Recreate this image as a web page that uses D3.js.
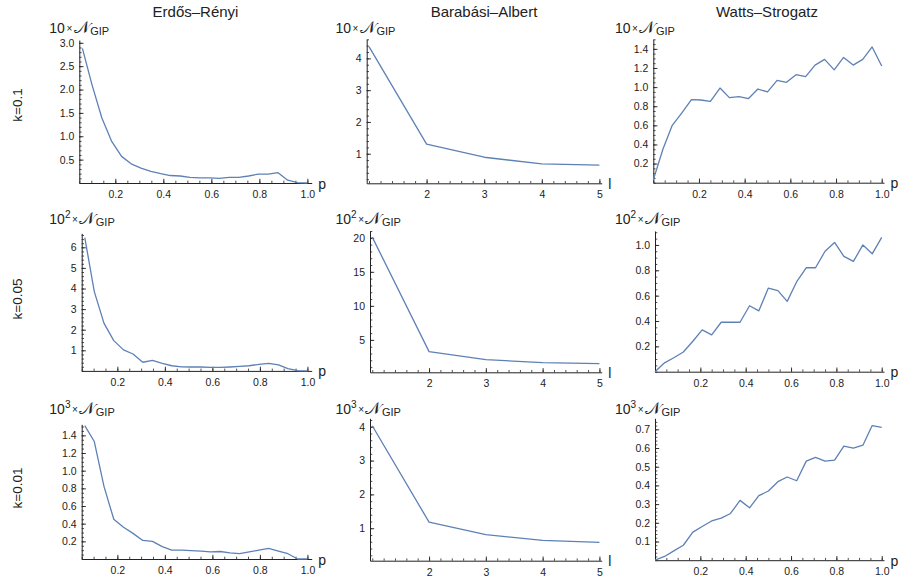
<!DOCTYPE html>
<html>
<head>
<meta charset="utf-8">
<script src="https://cdn.jsdelivr.net/npm/d3@7"></script>
<style>
  html, body { margin: 0; padding: 0; background: #fff; }
  svg { display: block; font-family: "Liberation Sans", Arial, sans-serif; }
</style>
</head>
<body>
<svg id="chart" width="901" height="583"></svg>
<script>
// ---------------- DATA ----------------
const colTitles = ["Erdős–Rényi", "Barabási–Albert", "Watts–Strogatz"];
const rowLabels = ["k=0.1", "k=0.05", "k=0.01"];
const scaleExponents = ["", "2", "3"];
const xAxisNames = ["p", "l", "p"];

// Erdős–Rényi: connection probability p
const pER = [0.063, 0.103, 0.144, 0.185, 0.226, 0.266, 0.307, 0.348, 0.389, 0.429, 0.470, 0.511,
             0.552, 0.592, 0.633, 0.674, 0.715, 0.755, 0.796, 0.837, 0.878, 0.918, 0.959, 1.0];
const erK01  = [2.88, 2.10, 1.39, 0.89, 0.57, 0.41, 0.32, 0.25, 0.20, 0.16, 0.15, 0.12,
                0.11, 0.11, 0.10, 0.12, 0.12, 0.15, 0.19, 0.19, 0.22, 0.06, 0.01, 0.00];
const erK005 = [6.47, 3.85, 2.31, 1.47, 1.02, 0.82, 0.42, 0.51, 0.37, 0.25, 0.20, 0.19,
                0.19, 0.17, 0.17, 0.19, 0.22, 0.25, 0.32, 0.37, 0.29, 0.11, 0.01, 0.00];
const erK001 = [1.51, 1.33, 0.82, 0.45, 0.36, 0.29, 0.21, 0.20, 0.14, 0.10, 0.10, 0.095,
                0.09, 0.08, 0.085, 0.07, 0.06, 0.08, 0.10, 0.12, 0.09, 0.06, 0.00, 0.00];

// Barabási–Albert: parameter l
const lBA = [1, 2, 3, 4, 5];
const baK01  = [4.37, 1.30, 0.89, 0.68, 0.64];
const baK005 = [20.1, 3.28, 2.10, 1.66, 1.51];
const baK001 = [4.03, 1.18, 0.81, 0.64, 0.58];

// Watts–Strogatz: rewiring probability p
const pWS = [0, 0.042, 0.083, 0.125, 0.167, 0.208, 0.25, 0.292, 0.333, 0.375, 0.417, 0.458,
             0.5, 0.542, 0.583, 0.625, 0.667, 0.708, 0.75, 0.792, 0.833, 0.875, 0.917, 0.958, 1.0];
const wsK01  = [0.03, 0.35, 0.60, 0.73, 0.87, 0.865, 0.85, 0.99, 0.89, 0.90, 0.88, 0.98,
                0.95, 1.07, 1.05, 1.13, 1.11, 1.23, 1.29, 1.18, 1.31, 1.23, 1.29, 1.42, 1.22];
const wsK005 = [0.00, 0.07, 0.11, 0.155, 0.24, 0.33, 0.29, 0.39, 0.39, 0.39, 0.52, 0.48,
                0.66, 0.64, 0.555, 0.71, 0.82, 0.82, 0.95, 1.02, 0.91, 0.87, 1.00, 0.93, 1.06];
const wsK001 = [0.00, 0.02, 0.05, 0.08, 0.15, 0.18, 0.21, 0.225, 0.25, 0.32, 0.28, 0.345,
                0.37, 0.42, 0.445, 0.425, 0.53, 0.55, 0.53, 0.535, 0.61, 0.60, 0.615, 0.72, 0.71];

// tick labels
const xTicksER = [0.2, 0.4, 0.6, 0.8, 1.0];
const xTicksBA = [2, 3, 4, 5];
const xTicksWS = [0.2, 0.4, 0.6, 0.8, 1.0];
const yTicksER = [[0.5, 1.0, 1.5, 2.0, 2.5, 3.0], [1, 2, 3, 4, 5, 6], [0.2, 0.4, 0.6, 0.8, 1.0, 1.2, 1.4]];
const yTicksBA = [[1, 2, 3, 4], [5, 10, 15, 20], [1, 2, 3, 4]];
const yTicksWS = [[0.2, 0.4, 0.6, 0.8, 1.0, 1.2, 1.4], [0.2, 0.4, 0.6, 0.8, 1.0], [0.1, 0.2, 0.3, 0.4, 0.5, 0.6, 0.7]];

// ---------------- LAYOUT (positions / styles) ----------------
const panelBox = [ // [left, right, top, bottom]
  [[79.3, 311.7, 40, 183], [366.7, 601.7, 39.3, 183.3], [653.3, 884, 39.3, 182.7]],
  [[81.7, 311.7, 233.3, 370.9], [370, 601.7, 231, 372.3], [655, 884, 231, 371.7]],
  [[81.7, 311.7, 424.3, 559], [370, 601.7, 418.3, 560.7], [655, 884, 418.3, 560.2]]
];
const yDomains = [
  [[0, 3.06], [0.07, 4.6], [0, 1.5]],
  [[0, 6.68], [0.24, 21.0], [0, 1.11]],
  [[0, 1.525], [0.04, 4.25], [0, 0.759]]
];
const xDomains = [[0.05, 1.018], [0.96, 5.04], [0, 1.01]];
const xMinor = [0.05, 0.2, 0.05];
const yMinor = [[0.1, 0.2, 0.05], [0.2, 1, 0.05], [0.05, 0.2, 0.02]];
const yLabelX = [49.3, 335.5, 615];
const yLabelY = [33, 224.3, 414.3];
const rowLabelY = [105, 299, 488];
const titleX = [195.5, 484, 767];

const lineColor = "#5E81B5";
const axisColor = "#222";
const textColor = "#222";

// ---------------- DRAW ----------------
const svg = d3.select("#chart");

const xs = [pER, lBA, pWS];
const ys = [[erK01, baK01, wsK01], [erK005, baK005, wsK005], [erK001, baK001, wsK001]];
const xTickSets = [xTicksER, xTicksBA, xTicksWS];
const yTickSets = (r, c) => [yTicksER, yTicksBA, yTicksWS][c][r];

colTitles.forEach((t, c) => {
  svg.append("text").attr("x", titleX[c]).attr("y", 16.5)
    .attr("text-anchor", "middle").attr("font-size", 15).attr("fill", textColor).text(t);
});

rowLabels.forEach((t, r) => {
  svg.append("text")
    .attr("transform", `translate(21.5,${rowLabelY[r]}) rotate(-90)`)
    .attr("text-anchor", "middle").attr("font-size", 13.5).attr("fill", textColor).text(t);
});

function fmtFor(vals) {
  const dec = vals.some(v => Math.abs(v - Math.round(v)) > 1e-9) || vals.some(v => v < 1) ? 1 : 0;
  return d3.format(dec ? ".1f" : "d");
}

for (let r = 0; r < 3; r++) {
  for (let c = 0; c < 3; c++) {
    const [L, R, T, B] = panelBox[r][c];
    const x = d3.scaleLinear().domain(xDomains[c]).range([L, R]);
    const y = d3.scaleLinear().domain(yDomains[r][c]).range([B, T]);
    const g = svg.append("g");

    // minor ticks
    const xm = d3.range(Math.ceil(xDomains[c][0] / xMinor[c] - 1e-6) * xMinor[c], xDomains[c][1] + 1e-9, xMinor[c]);
    g.append("g").attr("transform", `translate(0,${B})`)
      .call(d3.axisBottom(x).tickValues(xm).tickSize(-2.3).tickFormat(""))
      .call(a => a.select(".domain").remove())
      .call(a => a.selectAll("line").attr("stroke", axisColor).attr("stroke-width", 0.8));
    const ym = d3.range(Math.ceil(yDomains[r][c][0] / yMinor[r][c] - 1e-6) * yMinor[r][c], yDomains[r][c][1] + 1e-9, yMinor[r][c]);
    g.append("g").attr("transform", `translate(${L},0)`)
      .call(d3.axisLeft(y).tickValues(ym).tickSize(-2.3).tickFormat(""))
      .call(a => a.select(".domain").remove())
      .call(a => a.selectAll("line").attr("stroke", axisColor).attr("stroke-width", 0.8));

    // major axes
    const xt = xTickSets[c];
    const xa = g.append("g").attr("transform", `translate(0,${B})`)
      .call(d3.axisBottom(x).tickValues(xt).tickFormat(fmtFor(xt)).tickSizeInner(-4.2).tickSizeOuter(0).tickPadding(7.5));
    const yt = yTickSets(r, c);
    const ya = g.append("g").attr("transform", `translate(${L},0)`)
      .call(d3.axisLeft(y).tickValues(yt).tickFormat(fmtFor(yt)).tickSizeInner(-4.2).tickSizeOuter(0).tickPadding(5));
    [xa, ya].forEach(a => {
      a.select(".domain").attr("stroke", axisColor).attr("stroke-width", 1);
      a.selectAll("line").attr("stroke", axisColor).attr("stroke-width", 0.9);
      a.selectAll("text").attr("font-size", 10.5).attr("fill", textColor)
        .attr("font-family", "'Liberation Sans', Arial, sans-serif");
    });

    // axis name
    svg.append("text").attr("x", R + 6.5).attr("y", B + 5.5)
      .attr("font-size", 14).attr("fill", textColor).text(xAxisNames[c]);

    // y label
    const lab = svg.append("text").attr("x", yLabelX[c]).attr("y", yLabelY[r])
      .attr("font-size", 14).attr("fill", textColor);
    lab.append("tspan").text("10");
    let shift = 0;
    if (scaleExponents[r]) {
      lab.append("tspan").attr("font-size", 10).attr("dy", -6).text(scaleExponents[r]);
      shift = 6;
    }
    lab.append("tspan").attr("font-size", 10).attr("dx", 1.5).attr("dy", shift - 1).text("×");
    lab.append("tspan").attr("font-size", 17).attr("dx", 1.5).attr("dy", 1).text("𝒩");
    lab.append("tspan").attr("font-size", 11).attr("dx", 0.5).attr("dy", 1.5).text("GIP");

    // data line
    const pts = xs[c].map((xv, i) => [xv, ys[r][c][i]]);
    g.append("path").datum(pts)
      .attr("fill", "none").attr("stroke", lineColor).attr("stroke-width", 1.3)
      .attr("stroke-linejoin", "round")
      .attr("d", d3.line().x(d => x(d[0])).y(d => y(d[1])));
  }
}
</script>
</body>
</html>
